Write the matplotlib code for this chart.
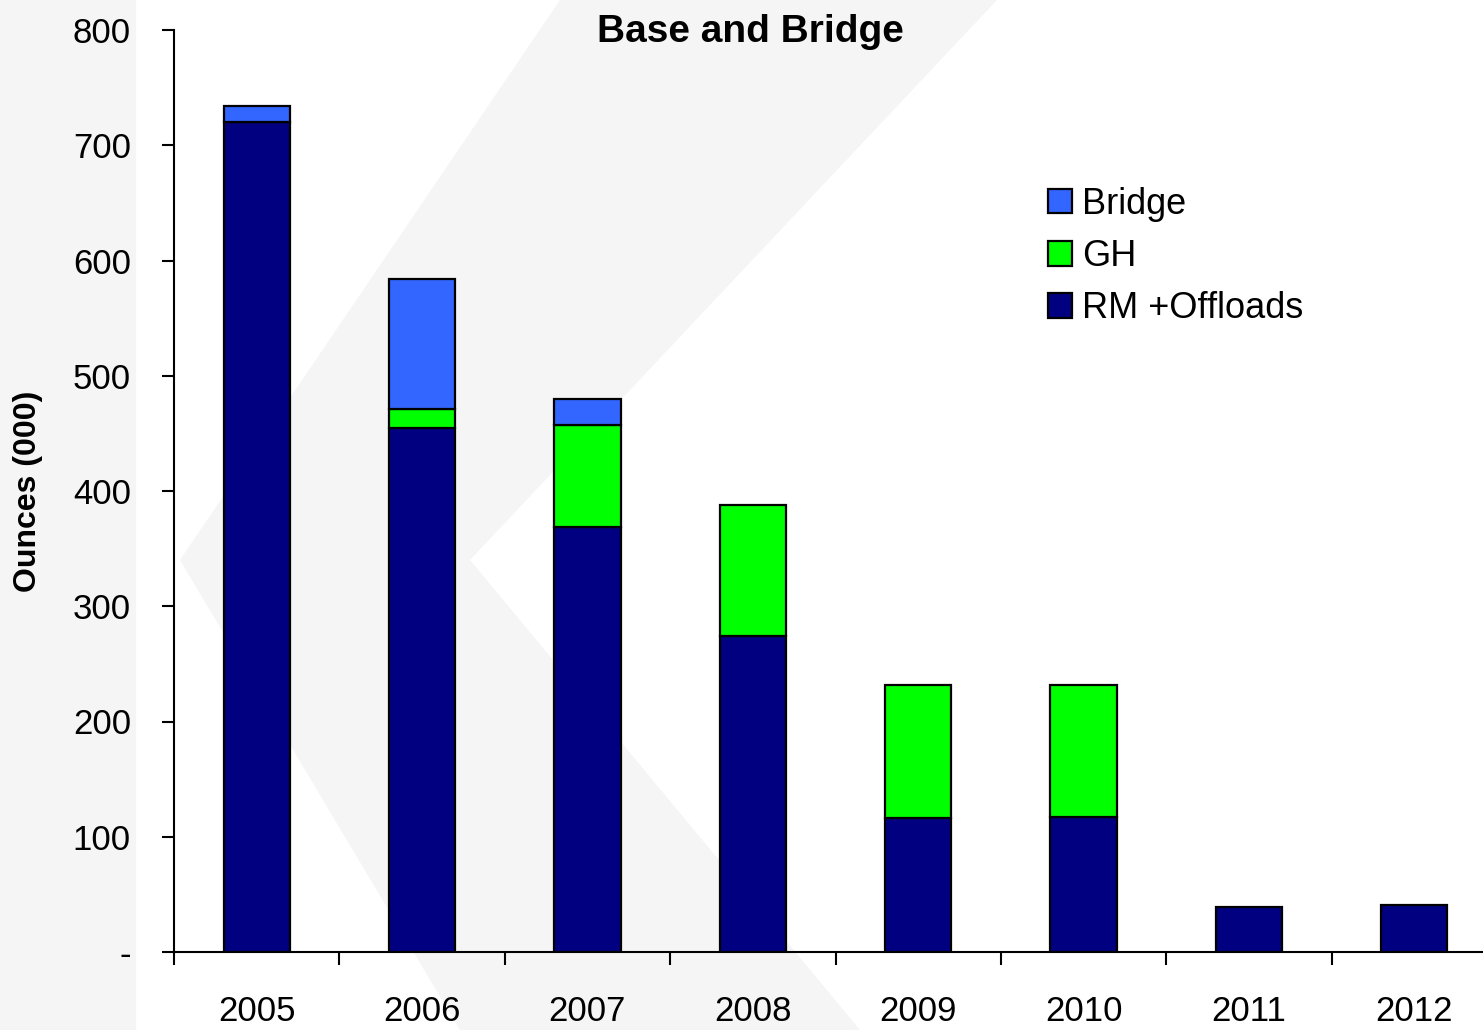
import matplotlib
matplotlib.use("Agg")
import matplotlib.pyplot as plt
from matplotlib.patches import Polygon, Rectangle
import numpy as np

plt.rcParams.update({
    "font.family": ["Liberation Sans", "DejaVu Sans"],
    "font.size": 25,
})

# ── Data ──────────────────────────────────────────────────────────────────────
years = ["2005", "2006", "2007", "2008", "2009", "2010", "2011", "2012"]
rm_offloads = [720, 455, 369, 274, 116, 117, 39, 41]
gh          = [0, 16, 88, 114, 116, 115, 0, 0]
bridge      = [14, 113, 23, 0, 0, 0, 0, 0]

C_RM     = "#000080"
C_GH     = "#00FF00"
C_BRIDGE = "#3366FF"
C_WM     = "#f5f5f5"   # faint watermark grey

W, H = 1483, 1030
fig = plt.figure(figsize=(W / 100, H / 100), dpi=100)


def px(x, y):
    """pixel (from top-left) -> figure fraction"""
    return (x / W, 1 - y / H)


# ── Faint background watermark ───────────────────────────────────────────────
fig.patches.append(Rectangle((0, 0), 135 / W, 1, transform=fig.transFigure,
                             color=C_WM, zorder=-5))
for pts in (
    [(560, 0), (997, 0), (470, 560), (180, 560)],
    [(180, 560), (470, 560), (860, 1030), (460, 1030)],
):
    fig.patches.append(Polygon([px(*p) for p in pts], closed=True,
                               transform=fig.transFigure, color=C_WM,
                               lw=0, zorder=-5))

# axes runs a little past the right edge of the picture, as in the original
ax = fig.add_axes([174 / W, 1 - 952 / H, (1497 - 174) / W, (952 - 30) / H])
ax.set_facecolor("none")
ax.set_zorder(2)

x = np.arange(len(years))
bw = 0.4
rm = np.array(rm_offloads)
g = np.array(gh)
b = np.array(bridge)

ax.bar(x, rm, bw, color=C_RM, edgecolor="black", linewidth=1.6,
       label="RM +Offloads", zorder=3)
gm = g > 0
ax.bar(x[gm], g[gm], bw, bottom=rm[gm], color=C_GH, edgecolor="black",
       linewidth=1.6, label="GH", zorder=3)
bm = b > 0
ax.bar(x[bm], b[bm], bw, bottom=(rm + g)[bm], color=C_BRIDGE, edgecolor="black",
       linewidth=1.6, label="Bridge", zorder=3)

ax.set_xlim(-0.5, len(years) - 0.5)
ax.set_ylim(0, 800)
ax.set_yticks(range(0, 801, 100))
ax.set_yticklabels(["-"] + [str(v) for v in range(100, 801, 100)])
ax.set_xticks(np.arange(-0.5, len(years), 1))
ax.set_xticklabels([])
ax.set_xticks(x, minor=True)
ax.set_xticklabels(years, minor=True)
ax.tick_params(axis="x", which="major", length=9, width=1.5, direction="out")
ax.tick_params(axis="x", which="minor", length=0, pad=31, labelsize=25)
ax.tick_params(axis="y", length=9, width=1.5, direction="out", pad=22, labelsize=25)

for s in ("top", "right"):
    ax.spines[s].set_visible(False)
for s in ("left", "bottom"):
    ax.spines[s].set_linewidth(1.5)

fig.text(*px(28, 491), "Ounces (000)", fontsize=23, fontweight="bold",
         rotation=90, ha="center", va="center")

fig.text(*px(750, 42), "Base and Bridge", fontsize=28,
         fontweight="bold", ha="center", va="baseline")

handles, labels = ax.get_legend_handles_labels()
order = [2, 1, 0]
ax.legend([handles[i] for i in order], [labels[i] for i in order],
          loc="upper left", bbox_to_anchor=((1048 - 174) / 1323, 0.83),
          frameon=False, borderpad=0, borderaxespad=0,
          fontsize=26, handlelength=0.67, handleheight=0.67,
          handletextpad=0.28, labelspacing=0.48)

fig.savefig("out.png", dpi=100)
